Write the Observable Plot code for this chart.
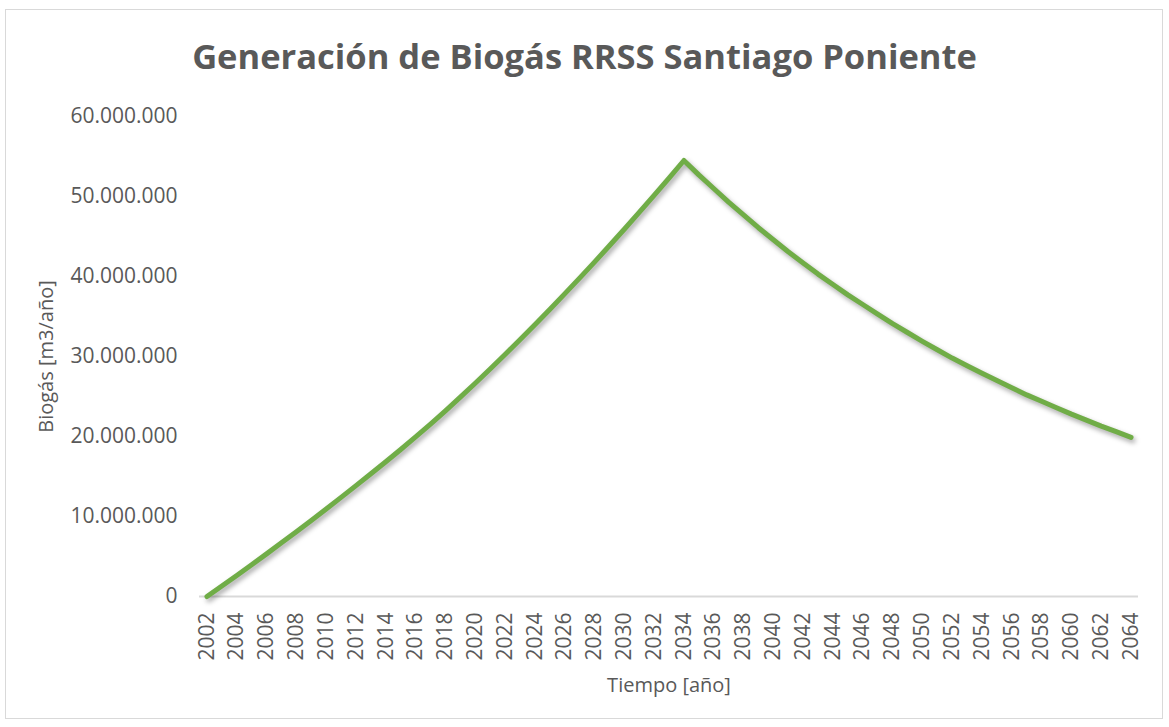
<!DOCTYPE html>
<html><head><meta charset="utf-8">
<script src="https://cdn.jsdelivr.net/npm/d3@7"></script>
<script src="https://cdn.jsdelivr.net/npm/@observablehq/plot@0.6"></script>
<style>
body{margin:0;background:#fff;}
#wrap{position:relative;width:1169px;height:727px;}
#border{position:absolute;left:5px;top:9px;width:1158px;height:710px;border:1px solid #d9d9d9;box-sizing:border-box;pointer-events:none;}
g[aria-label="line"] path{filter:drop-shadow(2px 3px 2.5px rgba(0,0,0,0.35));}
</style></head><body><div id="wrap"><div id="border"></div></div>
<script>
const titleText = "Generación de Biogás RRSS Santiago Poniente";
const xLabel = "Tiempo [año]";
const yLabel = "Biogás [m3/año]";

const years = [2002,2003,2004,2005,2006,2007,2008,2009,2010,2011,2012,2013,2014,2015,2016,2017,2018,2019,2020,2021,2022,2023,2024,2025,2026,2027,2028,2029,2030,2031,2032,2033,2034,2035,2036,2037,2038,2039,2040,2041,2042,2043,2044,2045,2046,2047,2048,2049,2050,2051,2052,2053,2054,2055,2056,2057,2058,2059,2060,2061,2062,2063,2064];

const biogas = [0,1310000,2630000,3970000,5330000,6710000,8100000,9510000,10950000,12390000,13860000,15350000,16850000,18380000,19950000,21550000,23210000,24910000,26660000,28440000,30250000,32100000,33970000,35880000,37830000,39800000,41800000,43840000,45910000,48010000,50140000,52300000,54500000,52700000,51000000,49300000,47700000,46100000,44600000,43100000,41700000,40300000,39000000,37700000,36500000,35300000,34100000,33000000,31900000,30850000,29800000,28850000,27900000,27000000,26100000,25200000,24400000,23600000,22800000,22050000,21300000,20600000,19900000];

const xTicks = [2002,2004,2006,2008,2010,2012,2014,2016,2018,2020,2022,2024,2026,2028,2030,2032,2034,2036,2038,2040,2042,2044,2046,2048,2050,2052,2054,2056,2058,2060,2062,2064];
const yTicks = [0,10000000,20000000,30000000,40000000,50000000,60000000];

const data = years.map((year, i) => ({year, value: biogas[i]}));

const chart = Plot.plot({
  width: 1169, height: 727,
  marginLeft: 199, marginRight: 31, marginTop: 116, marginBottom: 131,
  style: {fontFamily: "'Open Sans', sans-serif", fontSize: "21px", color: "#595959", background: "transparent"},
  x: {type: "point", domain: years, padding: 0.5},
  y: {domain: [0, 60000000]},
  marks: [
    Plot.axisY({ticks: yTicks, tickSize: 0, tickPadding: 22, label: null, fill: "#595959",
      tickFormat: d => d3.format(",")(d).replace(/,/g, ".")}),
    Plot.axisX({ticks: xTicks, tickSize: 0, tickPadding: 16, tickRotate: -90, label: null, fill: "#595959",
      tickFormat: d => String(d)}),
    Plot.ruleY([0], {stroke: "#d9d9d9", strokeWidth: 2}),
    Plot.line(data, {x: "year", y: "value", stroke: "#70ad47", strokeWidth: 5, strokeLinecap: "round"}),
    Plot.text([titleText], {frameAnchor: "top", textAnchor: "middle", lineAnchor: "middle", dx: -84.5, dy: -59, fontSize: 34.5, fontWeight: "bold", fill: "#595959"}),
    Plot.text([xLabel], {frameAnchor: "bottom", textAnchor: "middle", lineAnchor: "middle", dy: 89, fontSize: 20, fill: "#595959"}),
    Plot.text([yLabel], {frameAnchor: "left", textAnchor: "middle", lineAnchor: "middle", dx: -153, rotate: -90, fontSize: 20, fill: "#595959"})
  ]
});
document.getElementById("wrap").prepend(chart);
</script>
</body></html>
